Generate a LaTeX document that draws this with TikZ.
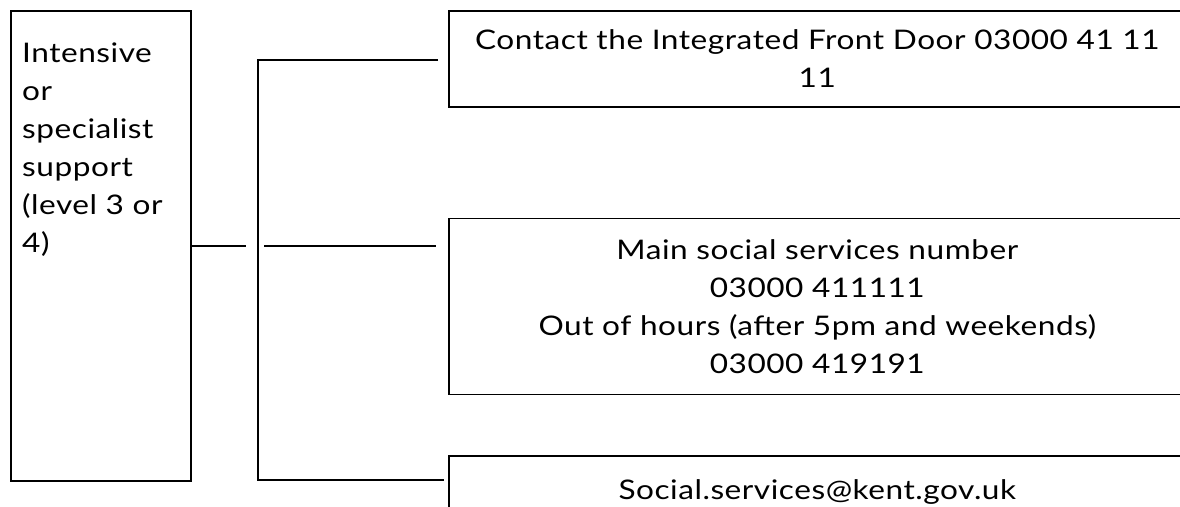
\documentclass[tikz,border=0pt]{standalone}
\usepackage{fontspec}
\setmainfont[FakeStretch=1.17,LetterSpace=2]{Lato}
\usetikzlibrary{positioning}
\tikzset{
  panel/.style={draw, rectangle, line width=1.6pt, inner sep=0pt, align=center,
    minimum width=737pt, font=\fontsize{27}{38}\selectfont},
  link/.style={line width=1.6pt},
}
\begin{document}
\begin{tikzpicture}[x=1pt,y=-1pt]
   \useasboundingbox (0,0) rectangle (1180,506);
   \clip (0,0) rectangle (1180,506);
   \node[draw, line width=1.6pt, minimum width=180pt, minimum height=470pt, anchor=north west] (level) at (10,10) {};
   \node[anchor=north west, align=left, inner sep=0pt, font=\fontsize{27}{38}\selectfont] (level text) at (22,43)
      {Intensive\\or\\specialist\\support\\(level 3 or\\4)};
   \node[panel, minimum height=96pt, anchor=north west] (door) at (448,10)
      {Contact the Integrated Front Door 03000 41 11\\11};
   \node[panel, minimum height=176pt] (phone) [below=110pt of door]
      {Main social services number\\03000 411111\\Out of hours (after 5pm and weekends)\\03000 419191};
   \node[panel, minimum height=72pt] (email) [below=60pt of phone] {Social.services@kent.gov.uk};
   \coordinate (spine top) at (258,60);
   \coordinate (spine bot) at (258,480);
   \draw[link] (level.east) -- ++(54,0);
   \draw[link] ([xshift=-10pt]door.west |- spine top) -- (spine top) -- (spine bot)
      -- ([xshift=-4pt]email.west |- spine bot);
   \draw[link] ([xshift=6pt]spine top |- level.east) -- ([xshift=-12pt]phone.west |- level.east);
\end{tikzpicture}
\end{document}
